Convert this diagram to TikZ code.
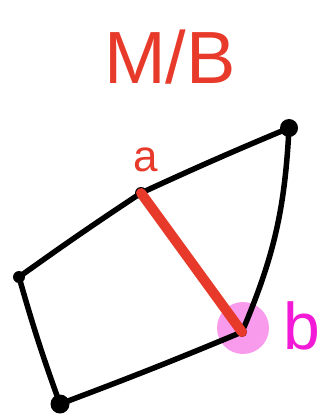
\documentclass[tikz,border=0pt]{standalone}
\usepackage{fontspec}
\setmainfont{Liberation Sans}
\usepackage{xcolor}
\definecolor{mbred}{HTML}{E83A2A}
\definecolor{mbmag}{HTML}{F21AD6}
\definecolor{mbpink}{HTML}{F89BEC}
\usetikzlibrary{positioning}

\begin{document}
\begin{tikzpicture}[x=1pt,y=-1pt,
  vtx/.style={circle,fill=black,inner sep=0pt,minimum size=#1},
  vtx/.default=10pt,
  edge/.style={line width=5.5pt,line cap=round,line join=round},
  lbl/.style={inner sep=0pt,font=\fontsize{#1}{#1}\selectfont}]
\useasboundingbox (0,0) rectangle (323,419);
% highlight of b
\fill[mbpink] (243,328) circle (26);
% vertices
\node[vtx=12pt] (a) at (141,193) {};
\node[vtx=18pt] (t) at (289,128) {};
\node[vtx=10pt] (b) at (242,332) {};
\node[vtx=19pt] (d) at (60,404) {};
\node[vtx=12pt] (l) at (19,277) {};
% polygon
\draw[edge] (a.center) to[bend left=1] (t.center);
\draw[edge] (t.center) to[bend left=10] (b.center);
\draw[edge] (b.center) to[bend left=1] (d.center);
\draw[edge] (d.center) to[bend left=2] (l.center);
\draw[edge] (l.center) to[bend left=1] (a.center);
% the chord
\draw[mbred,line width=10pt,line cap=round] (a.center) -- (b.center);
% labels
\node[lbl=74pt,text=mbred] (title) at (170,57) {M/B};
\node[lbl=44pt,text=mbred] (la) at (146,160) {a};
\node[lbl=66pt,text=mbmag] (lb) at (302,326) {b};
\end{tikzpicture}
\end{document}
